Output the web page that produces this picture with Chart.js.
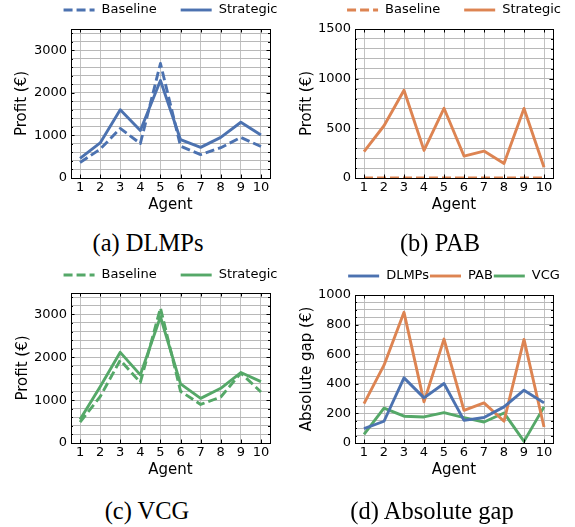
<!DOCTYPE html>
<html>
<head>
<meta charset="utf-8">
<script src="https://cdn.jsdelivr.net/npm/chart.js@4.4.1/dist/chart.umd.min.js"></script>
<style>
  body { margin: 0; background: #fff; width: 575px; height: 527px; position: relative; overflow: hidden; }
  .panel { position: absolute; width: 288px; height: 225px; }
  .cap { position: absolute; font-family: 'Liberation Serif', serif; font-size: 24.5px; color: #000;
         transform: translate(-50%, -50%); white-space: nowrap; }
</style>
</head>
<body>
<div class="panel" style="left:0;top:0"><canvas id="chart-dlmp" width="288" height="225"></canvas></div>
<div class="panel" style="left:287px;top:0"><canvas id="chart-pab" width="288" height="225"></canvas></div>
<div class="panel" style="left:0;top:260px"><canvas id="chart-vcg" width="288" height="225"></canvas></div>
<div class="panel" style="left:287px;top:260px"><canvas id="chart-gap" width="288" height="225"></canvas></div>
<div class="cap" style="left:148px;top:243px">(a) DLMPs</div>
<div class="cap" style="left:440px;top:243px">(b) PAB</div>
<div class="cap" style="left:147px;top:511px">(c) VCG</div>
<div class="cap" style="left:432px;top:511px">(d) Absolute gap</div>
<script>
const agents = [1, 2, 3, 4, 5, 6, 7, 8, 9, 10];

const dlmpBaseline  = [363, 676, 1165, 810, 2690, 747, 548, 711, 953, 739];
const dlmpStrategic = [460, 823, 1605, 1115, 2290, 900, 720, 955, 1310, 1010];

const pabBaseline  = [0, 0, 0, 0, 0, 0, 0, 0, 0, 0];
const pabStrategic = [266, 526, 883, 278, 702, 221, 271, 147, 700, 108];

const vcgBaseline  = [489, 1080, 1934, 1414, 3150, 1206, 900, 1073, 1633, 1189];
const vcgStrategic = [548, 1315, 2115, 1590, 2945, 1378, 1042, 1276, 1644, 1433];

const gapDlmp = [97, 147, 440, 305, 402, 153, 172, 244, 357, 271];
const gapPab  = [266, 526, 883, 278, 702, 221, 271, 147, 700, 108];
const gapVcg  = [59, 235, 181, 176, 205, 172, 142, 203, 11, 244];

const profitTicks = [0, 1000, 2000, 3000];
const pabTicks    = [0, 500, 1000, 1500];
const gapTicks    = [0, 200, 400, 600, 800, 1000];

const BLUE = '#4c72b0', ORANGE = '#dd8452', GREEN = '#55a868';
const FONT = 'DejaVu Sans';

// inward ticks on all four sides + black frame
const frame = {
  id: 'frame',
  afterDatasetsDraw(chart, args, opts) {
    const { ctx, chartArea: a, scales: { x, y } } = chart;
    ctx.save();
    ctx.strokeStyle = '#000';
    ctx.lineWidth = 1;
    ctx.beginPath();
    x.ticks.forEach(t => {
      const px = Math.round(x.getPixelForValue(t.value)) + 0.5;
      ctx.moveTo(px, a.bottom); ctx.lineTo(px, a.bottom - 3.5);
      ctx.moveTo(px, a.top);    ctx.lineTo(px, a.top + 3.5);
    });
    y.ticks.forEach(t => {
      const len = opts.major.includes(t.value) ? 3.5 : 2;
      const py = Math.round(y.getPixelForValue(t.value)) + 0.5;
      ctx.moveTo(a.left, py);  ctx.lineTo(a.left + len, py);
      ctx.moveTo(a.right, py); ctx.lineTo(a.right - len, py);
    });
    ctx.stroke();
    ctx.strokeRect(Math.round(a.left) + 0.5, Math.round(a.top) + 0.5,
                   Math.round(a.right - a.left), Math.round(a.bottom - a.top));
    ctx.restore();
  }
};

// matplotlib-like legend row above the axes
const lineLegend = {
  id: 'lineLegend',
  afterDraw(chart, args, opts) {
    const { ctx, chartArea: a } = chart;
    ctx.save();
    ctx.font = `13px "${FONT}"`;
    const items = chart.data.datasets.map(d => ({ d, w: ctx.measureText(d.label).width }));
    const total = items.reduce((s, it) => s + opts.line + opts.gap + it.w, 0) + opts.colGap * (items.length - 1);
    let cx = (a.left + a.right) / 2 - total / 2;
    items.forEach(({ d, w }) => {
      ctx.strokeStyle = d.borderColor;
      ctx.lineWidth = d.borderWidth;
      ctx.setLineDash(d.borderDash || []);
      ctx.beginPath();
      ctx.moveTo(cx, opts.y);
      ctx.lineTo(cx + opts.line, opts.y);
      ctx.stroke();
      cx += opts.line + opts.gap;
      ctx.fillStyle = '#000';
      ctx.textBaseline = 'middle';
      ctx.fillText(d.label, cx, opts.y);
      cx += w + opts.colGap;
    });
    ctx.restore();
  }
};

function series(label, values, color, dashed) {
  return {
    label,
    data: agents.map((a, i) => ({ x: a, y: values[i] })),
    borderColor: color,
    borderWidth: 2.9,
    borderDash: dashed ? [9, 4] : [],
    borderJoinStyle: 'round',
    pointRadius: 0,
    tension: 0
  };
}

function makeChart(id, datasets, cfg) {
  new Chart(document.getElementById(id), {
    type: 'line',
    data: { datasets },
    plugins: [frame, lineLegend],
    options: {
      responsive: false,
      animation: false,
      layout: { padding: { top: cfg.top, right: cfg.right, left: 0, bottom: 0 } },
      plugins: {
        legend: { display: false },
        tooltip: { enabled: false },
        frame: { major: cfg.major },
        lineLegend: { y: cfg.legendY, line: 31, gap: 7, colGap: cfg.colGap }
      },
      scales: {
        x: {
          type: 'linear',
          min: 0.55, max: 10.45,
          afterBuildTicks: s => { s.ticks = agents.map(v => ({ value: v })); },
          afterFit: s => { s.height = cfg.bottom; },
          ticks: { color: '#000', font: { family: FONT, size: 13 }, padding: 2, autoSkip: false, maxRotation: 0 },
          grid: { color: '#c2c2c2', lineWidth: 1, drawTicks: false },
          border: { display: false },
          title: { display: true, text: 'Agent', color: '#000', font: { family: FONT, size: 15 },
                   padding: { top: 0, bottom: cfg.xTitlePad } }
        },
        y: {
          type: 'linear',
          min: 0, max: cfg.max,
          afterBuildTicks: s => {
            const t = [];
            for (let i = 0; i * cfg.minor <= cfg.max; i++) t.push({ value: i * cfg.minor });
            s.ticks = t;
          },
          afterFit: s => { s.width = cfg.left; },
          ticks: {
            color: '#000', font: { family: FONT, size: 13 }, padding: 4, autoSkip: false,
            callback: v => cfg.major.includes(v) ? String(v) : ''
          },
          grid: { color: '#b8b8b8', lineWidth: 1, drawTicks: false },
          border: { display: false },
          title: { display: true, text: cfg.yTitle, color: '#000', font: { family: FONT, size: 15 },
                   padding: { top: cfg.yTitlePad, bottom: 0 } }
        }
      }
    }
  });
}

makeChart('chart-dlmp', [
  series('Baseline', dlmpBaseline, BLUE, true),
  series('Strategic', dlmpStrategic, BLUE, false)
], { top: 29, right: 18, left: 71, bottom: 47, max: 3500, minor: 200, major: profitTicks,
     yTitle: 'Profit (€)', yTitlePad: 13.5, xTitlePad: 11, legendY: 10, colGap: 24 });

makeChart('chart-pab', [
  series('Baseline', pabBaseline, ORANGE, true),
  series('Strategic', pabStrategic, ORANGE, false)
], { top: 29, right: 22, left: 68, bottom: 47, max: 1500, minor: 100, major: pabTicks,
     yTitle: 'Profit (€)', yTitlePad: 11, xTitlePad: 11, legendY: 10, colGap: 24 });

makeChart('chart-vcg', [
  series('Baseline', vcgBaseline, GREEN, true),
  series('Strategic', vcgStrategic, GREEN, false)
], { top: 33, right: 18, left: 71, bottom: 42, max: 3500, minor: 200, major: profitTicks,
     yTitle: 'Profit (€)', yTitlePad: 14, xTitlePad: 6, legendY: 15, colGap: 24 });

makeChart('chart-gap', [
  series('DLMPs', gapDlmp, BLUE, false),
  series('PAB', gapPab, ORANGE, false),
  series('VCG', gapVcg, GREEN, false)
], { top: 35, right: 22, left: 68, bottom: 42, max: 1000, minor: 50, major: gapTicks,
     yTitle: 'Absolute gap (€)', yTitlePad: 11.5, xTitlePad: 6, legendY: 16, colGap: 1 });
</script>
</body>
</html>
